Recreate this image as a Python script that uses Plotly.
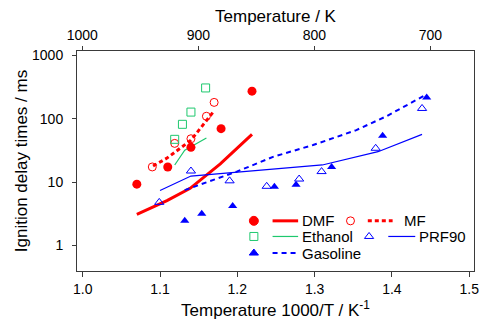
import plotly.graph_objects as go

# ---- data ----
dmf_x = [1.070, 1.110, 1.140, 1.179, 1.219]
dmf_y = [9.3, 17.4, 35.5, 70, 274]
dmf_fit_x = [1.070, 1.109, 1.139, 1.178, 1.219]
dmf_fit_y = [3.1, 5.1, 8.0, 19.5, 57]

mf_x = [1.090, 1.119, 1.140, 1.160, 1.170]
mf_y = [17.4, 41, 48.5, 110, 182]
mf_fit_x = [1.091, 1.109, 1.140, 1.169]
mf_fit_y = [18, 24, 46, 129]

eth_x = [1.119, 1.129, 1.140, 1.159]
eth_y = [47.5, 82, 128, 308]
eth_fit_x = [1.119, 1.132, 1.160]
eth_fit_y = [18.7, 32, 50]

prf_x = [1.099, 1.140, 1.190, 1.238, 1.280, 1.309, 1.379, 1.439]
prf_y = [4.8, 15, 10.5, 8.6, 11.2, 14.7, 34.3, 146]
prf_fit_x = [1.100, 1.140, 1.310, 1.382, 1.439]
prf_fit_y = [7.4, 12.5, 18.7, 30.3, 57]

gas_x = [1.132, 1.154, 1.194, 1.248, 1.276, 1.322, 1.388, 1.445]
gas_y = [2.45, 3.16, 4.22, 8.5, 9.1, 17.4, 54, 218]
gas_fit_x = [1.132, 1.200, 1.247, 1.298, 1.354, 1.393, 1.443]
gas_fit_y = [7.5, 14.8, 25.3, 38.6, 66.5, 110, 237]

x_ticks = [1.0, 1.1, 1.2, 1.3, 1.4, 1.5]
x_ticktext = ["1.0", "1.1", "1.2", "1.3", "1.4", "1.5"]
t_ticks = [1000, 900, 800, 700]
y_ticks = [1, 10, 100, 1000]
y_ticktext = ["1", "10", "100", "1000"]

RED = "#ff0000"
GREEN = "#1ec86e"
BLUE = "#0000ff"
AX = "#3a3a3a"
FONT = "Liberation Sans, Arial, sans-serif"

fig = go.Figure()

# fitted / model lines
fig.add_trace(go.Scatter(x=dmf_fit_x, y=dmf_fit_y, mode="lines",
                         line=dict(color=RED, width=3)))
fig.add_trace(go.Scatter(x=mf_fit_x, y=mf_fit_y, mode="lines",
                         line=dict(color=RED, width=3, dash="4px,3px")))
fig.add_trace(go.Scatter(x=eth_fit_x, y=eth_fit_y, mode="lines",
                         line=dict(color=GREEN, width=1.2)))
fig.add_trace(go.Scatter(x=prf_fit_x, y=prf_fit_y, mode="lines",
                         line=dict(color=BLUE, width=1.2)))
fig.add_trace(go.Scatter(x=gas_fit_x, y=gas_fit_y, mode="lines",
                         line=dict(color=BLUE, width=2, dash="5px,4px")))

# experimental points
fig.add_trace(go.Scatter(x=dmf_x, y=dmf_y, mode="markers",
                         marker=dict(symbol="circle", size=9, color=RED)))
fig.add_trace(go.Scatter(x=mf_x, y=mf_y, mode="markers",
                         marker=dict(symbol="circle-open", size=8, color=RED,
                                     line=dict(width=1))))
fig.add_trace(go.Scatter(x=eth_x, y=eth_y, mode="markers",
                         marker=dict(symbol="square-open", size=8, color=GREEN,
                                     line=dict(width=1))))
fig.add_trace(go.Scatter(x=prf_x, y=prf_y, mode="markers",
                         marker=dict(symbol="triangle-up-open", size=8, color=BLUE,
                                     line=dict(width=1))))
fig.add_trace(go.Scatter(x=gas_x, y=gas_y, mode="markers",
                         marker=dict(symbol="triangle-up", size=8, color=BLUE)))

# invisible carrier trace so the top (temperature) axis is drawn
fig.add_trace(go.Scatter(x=t_ticks, y=[y_ticks[0]] * len(t_ticks), xaxis="x2", yaxis="y",
                         mode="markers", marker=dict(opacity=0), hoverinfo="skip"))

# ---- manual legend (plot-area fractions) ----
legend_entries = [
    ("DMF", "circle", RED, 0.4455, 0.4926, 0.557, 0.5631, 0.228, 3, None, 9),
    ("MF", "circle-open", RED, 0.6889, 0.7325, 0.795, 0.8213, 0.228, 3, "4px,3px", 8),
    ("Ethanol", "square-open", GREEN, 0.4455, 0.4926, 0.557, 0.5631, 0.157, 1.2, None, 8),
    ("PRF90", "triangle-up-open", BLUE, 0.7357, 0.7841, 0.852, 0.8598, 0.157, 1.2, None, 8),
    ("Gasoline", "triangle-up", BLUE, 0.4455, 0.4926, 0.5533, 0.5631, 0.0816, 2, "5px,4px", 8),
]
for name, sym, col, mx, lx0, lx1, tx, ry, lw, dash, ms in legend_entries:
    fig.add_trace(go.Scatter(x=[mx], y=[ry], xaxis="x3", yaxis="y3", mode="markers",
                             marker=dict(symbol=sym, size=ms, color=col, line=dict(width=1, color=col)),
                             hoverinfo="skip"))
    ln = dict(color=col, width=lw)
    if dash:
        ln["dash"] = dash
    fig.add_shape(type="line", xref="paper", yref="paper", x0=lx0, x1=lx1, y0=ry, y1=ry, line=ln)
    fig.add_annotation(x=tx, y=ry, xref="paper", yref="paper", text=name, showarrow=False,
                       xanchor="left", yanchor="middle", font=dict(size=15, family=FONT, color="black"),
                       borderpad=0)

axis_common = dict(showgrid=False, zeroline=False, showline=True, linecolor=AX, linewidth=1,
                   ticks="outside", tickcolor=AX, tickwidth=1, automargin=False,
                   tickfont=dict(size=14, family=FONT, color="black"))

fig.update_layout(
    width=480, height=325,
    margin=dict(l=77, r=6, t=51, b=54),
    paper_bgcolor="white", plot_bgcolor="white",
    showlegend=False,
    font=dict(family=FONT, size=14, color="black"),
    xaxis=dict(range=[0.9926, 1.5062], tickvals=x_ticks, ticktext=x_ticktext, ticklen=5,
               mirror=True,
               title=dict(text="Temperature 1000/T / K<sup>-1</sup>", font=dict(size=17, family=FONT),
                          standoff=8),
               **axis_common),
    xaxis2=dict(overlaying="x", side="top", anchor="y", range=[1004.6, 662.4], tickvals=t_ticks,
                ticklen=4,
                title=dict(text="Temperature / K", font=dict(size=17, family=FONT), standoff=0),
                **axis_common),
    yaxis=dict(type="log", range=[-0.403, 3.072], tickvals=y_ticks, ticktext=y_ticktext, ticklen=4,
               mirror=True, ticklabelstandoff=6,
               title=dict(text="Ignition delay times / ms", font=dict(size=17, family=FONT), standoff=0),
               **axis_common),
    xaxis3=dict(overlaying="x", anchor="y3", range=[0, 1], visible=False),
    yaxis3=dict(overlaying="y", anchor="x3", range=[0, 1], visible=False),
)

fig.write_html("out.html", config={"displayModeBar": False, "staticPlot": True},
               post_script="document.body.style.margin='0px';")
